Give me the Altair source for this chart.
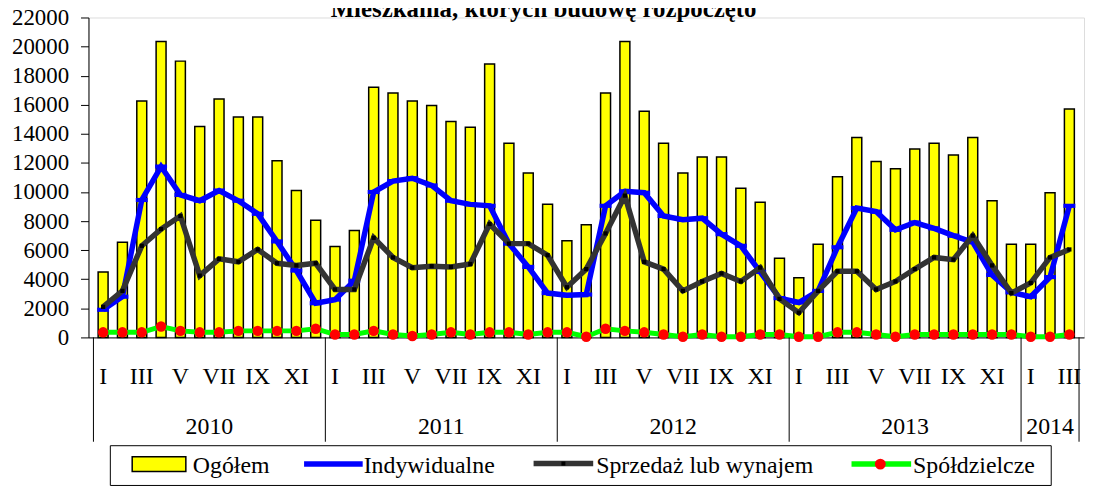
import altair as alt
import pandas as pd

# ---------------- data ----------------
years = ["2010", "2011", "2012", "2013", "2014"]
year_centers = [6, 18, 30, 42, 49.5]
year_breaks = [0, 12, 24, 36, 48, 51]
roman = ["I", "II", "III", "IV", "V", "VI", "VII", "VIII", "IX", "X", "XI", "XII"]

ogolem = [4500, 6550, 16250, 20350, 19000, 14500, 16400, 15150, 15150, 12150, 10100, 8050,
          6250, 7350, 17200, 16800, 16250, 15950, 14850, 14450, 18800, 13350, 11300, 9150,
          6650, 7750, 16800, 20350, 15550, 13350, 11300, 12400, 12400, 10250, 9300, 5450,
          4100, 6400, 11050, 13750, 12100, 11600, 12950, 13350, 12550, 13750, 9400, 6400,
          6400, 9950, 15700]
indywidualne = [1900, 2800, 9450, 11750, 9800, 9400, 10100, 9400, 8500, 6600, 4600, 2350,
                2600, 3900, 10000, 10750, 10950, 10450, 9400, 9150, 9050, 6450, 4850, 3050,
                2900, 2950, 9050, 10050, 9950, 8350, 8100, 8200, 7100, 6300, 4500, 2700,
                2400, 3200, 6200, 8900, 8650, 7400, 7900, 7500, 7000, 6550, 4300, 3100,
                2800, 4150, 9050]
sprzedaz = [2100, 3200, 6300, 7450, 8350, 4250, 5400, 5200, 6050, 5100, 4950, 5100,
            3300, 3300, 6850, 5500, 4800, 4900, 4850, 5050, 7800, 6450, 6450, 5650,
            3450, 4700, 7150, 9750, 5200, 4700, 3200, 3850, 4400, 3850, 4800, 2650,
            1700, 3200, 4550, 4550, 3300, 3850, 4700, 5500, 5350, 7000, 4950, 3050,
            3750, 5500, 6050]
spoldzielcze = [350, 350, 350, 750, 450, 350, 350, 450, 450, 450, 450, 600,
                200, 200, 450, 200, 100, 200, 350, 200, 350, 350, 200, 350,
                350, 50, 600, 450, 350, 200, 50, 200, 50, 50, 200, 200,
                50, 50, 350, 350, 200, 50, 200, 200, 200, 200, 200, 200,
                50, 50, 200]

title_text = "Mieszkania, których budowę rozpoczęto"
legend_labels = ["Ogółem", "Indywidualne", "Sprzedaż lub wynajem", "Spółdzielcze"]

n = len(ogolem)
df = pd.DataFrame({
    "pos": [i + 0.5 for i in range(n)],
    "month": [roman[i % 12] for i in range(n)],
    "ogolem": ogolem,
    "indywidualne": indywidualne,
    "sprzedaz": sprzedaz,
    "spoldzielcze": spoldzielcze,
})
odd_months = df[[i % 2 == 0 for i in range(n)]]
df_years = pd.DataFrame({"pos": year_centers, "year": years})
df_breaks = pd.DataFrame({"pos": year_breaks})
one = pd.DataFrame({"k": [0]})

FONT = "'Liberation Serif', 'Times New Roman', 'DejaVu Serif', serif"
W, H = 1002, 322

xs = alt.Scale(domain=[0, n], nice=False, zero=False)
ys = alt.Scale(domain=[0, 22000], nice=False)
xaxis = alt.Axis(labels=False, ticks=False, grid=False, title=None,
                 domainColor="black", domainWidth=1)
yaxis = alt.Axis(values=list(range(0, 22001, 2000)), format="d", tickSize=8,
                 tickColor="black", domainColor="black", domainWidth=1, grid=False,
                 title=None, labelFont=FONT, labelFontSize=23, labelColor="black",
                 labelPadding=12, labelFlush=False)
X = alt.X("pos:Q", scale=xs, axis=xaxis)


def Y(f):
    return alt.Y(f + ":Q", scale=ys, axis=yaxis)


bars = alt.Chart(df).mark_bar(size=10, fill="#FFFF00", stroke="black",
                              strokeWidth=1.5).encode(x=X, y=Y("ogolem"))
green = alt.Chart(df).mark_line(color="#00FF00", strokeWidth=5).encode(x=X, y=Y("spoldzielcze"))
red = alt.Chart(df).mark_circle(color="#FF0000", size=110, opacity=1).encode(x=X, y=Y("spoldzielcze"))
blue = alt.Chart(df).mark_line(color="#0000FF", strokeWidth=5.5).encode(x=X, y=Y("indywidualne"))
dash = "M -1 -0.35 L 1 -0.35 L 1 0.35 L -1 0.35 Z"
blue_pts = alt.Chart(df).mark_point(shape=dash, filled=True, color="#0000FF", size=144,
                                    opacity=1).encode(x=X, y=Y("indywidualne"))
gray = alt.Chart(df).mark_line(color="#333333", strokeWidth=5.5).encode(x=X, y=Y("sprzedaz"))
gray_pts = alt.Chart(df).mark_square(color="black", size=18, opacity=1).encode(x=X, y=Y("sprzedaz"))

# multi-level category axis
seps = alt.Chart(df_breaks).mark_rule(color="black", strokeWidth=1).encode(
    x=X, y=alt.value(H), y2=alt.value(427))
month_txt = alt.Chart(odd_months).mark_text(font=FONT, fontSize=24, color="black",
                                            baseline="alphabetic").encode(
    x=X, y=alt.value(369), text="month:N")
year_txt = alt.Chart(df_years).mark_text(font=FONT, fontSize=24, color="black",
                                         baseline="alphabetic").encode(
    x=X, y=alt.value(419), text="year:N")

# title
title = alt.Chart(one).mark_text(text=title_text, font=FONT, fontSize=25, fontWeight="bold",
                                 color="black", align="center", baseline="alphabetic").encode(
    x=alt.value(458), y=alt.value(-1))

# legend
box = alt.Chart(one).mark_rect(fill="white", stroke="black", strokeWidth=1).encode(
    x=alt.value(22), x2=alt.value(969), y=alt.value(431), y2=alt.value(471))
sym_bar = alt.Chart(one).mark_rect(fill="#FFFF00", stroke="black", strokeWidth=1.5).encode(
    x=alt.value(44), x2=alt.value(98), y=alt.value(442), y2=alt.value(457))
sym_blue = alt.Chart(one).mark_rule(color="#0000FF", strokeWidth=5.5).encode(
    x=alt.value(217), x2=alt.value(276), y=alt.value(449.5))
sym_gray = alt.Chart(one).mark_rule(color="#333333", strokeWidth=5.5).encode(
    x=alt.value(448), x2=alt.value(508), y=alt.value(449))
sym_gray_pt = alt.Chart(one).mark_square(color="black", size=16, opacity=1).encode(
    x=alt.value(478), y=alt.value(449))
sym_green = alt.Chart(one).mark_rule(color="#00FF00", strokeWidth=5.5).encode(
    x=alt.value(768), x2=alt.value(828), y=alt.value(449.5))
sym_red = alt.Chart(one).mark_circle(color="#FF0000", size=120, opacity=1).encode(
    x=alt.value(797), y=alt.value(449.5))
leg_x = [105, 277, 511, 830]
leg_txt = [alt.Chart(one).mark_text(text=t, font=FONT, fontSize=24, color="black",
                                    align="left", baseline="alphabetic").encode(
    x=alt.value(px), y=alt.value(458)) for t, px in zip(legend_labels, leg_x)]

chart = alt.layer(
    bars, green, red, blue, blue_pts, gray, gray_pts,
    seps, month_txt, year_txt, title,
    box, sym_bar, sym_blue, sym_gray, sym_gray_pt, sym_green, sym_red, *leg_txt
).properties(
    width=W, height=H,
    autosize=alt.AutoSizeParams(type="none"),
    padding={"left": 81, "top": 8, "right": 1, "bottom": 150},
).configure_view(stroke=None).configure(background="white")

chart.save("out.html", embed_options={"renderer": "svg", "actions": False})
